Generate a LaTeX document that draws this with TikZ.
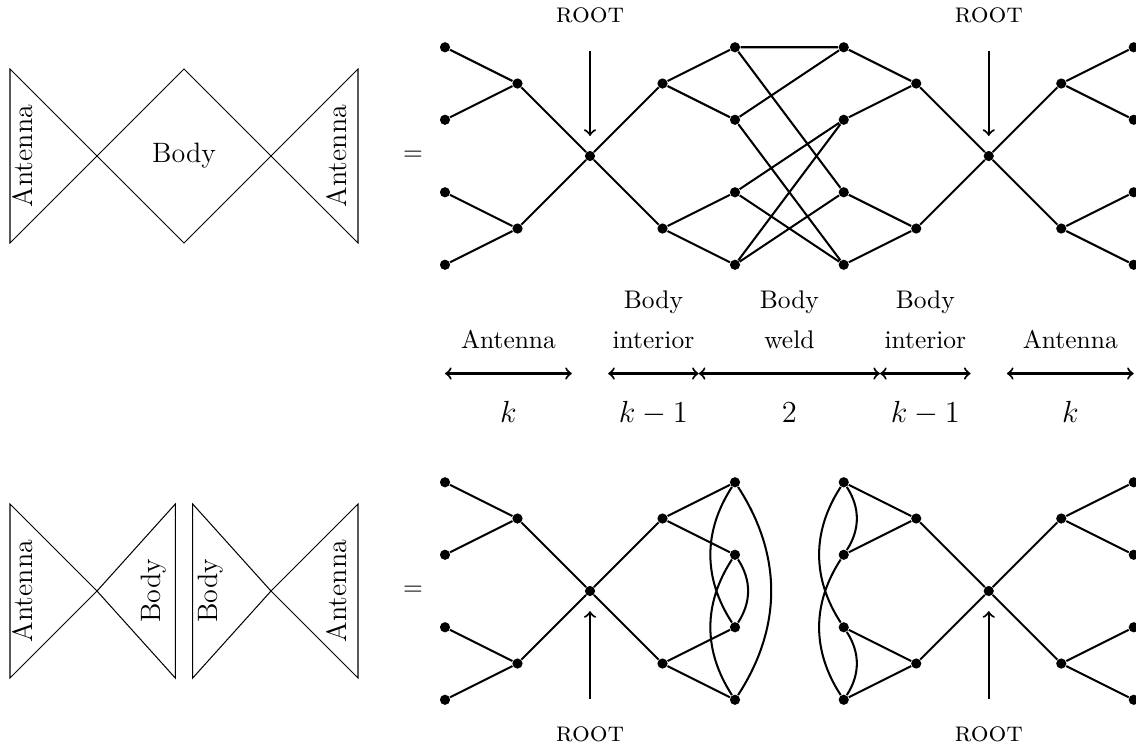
\documentclass[tikz,border=0pt]{standalone}
\usepackage{amsmath}
\usepackage{tikz}
\tikzset{
  vertex/.style={circle, fill, inner sep=0pt, minimum size=4pt},
  graphedge/.style={thick},
  rootarrow/.style={->, thick, shorten <=0.38cm, shorten >=0.2cm},
  rootlabel/.style={inner sep=0pt, font=\fontsize{11}{13}\selectfont},
  span/.style={<->, thick},
  spanlabel/.style={align=center, anchor=south},
  countlabel/.style={anchor=base, font=\large},
  bowtie/.style={draw, thin},
  bowtext/.style={font=\fontsize{11}{13}\selectfont},
}

\begin{document}
\begin{tikzpicture}
  \useasboundingbox (-8.138,-8.207) rectangle (7.531,2.152);

  % the two glued trees, once whole and once cut at the weld
  \foreach \r/\y in {t/0, b/-6} {
    \node[vertex] (\r-l1) at (-2,\y+1.5) {};
    \node[vertex] (\r-l2) at (-2,\y+0.5) {};
    \node[vertex] (\r-l3) at (-2,\y-0.5) {};
    \node[vertex] (\r-l4) at (-2,\y-1.5) {};
    \node[vertex] (\r-la) at (-1,\y+1) {};
    \node[vertex] (\r-lb) at (-1,\y-1) {};
    \node[vertex] (\r-root) at (0,\y) {};
    \node[vertex] (\r-ia) at (1,\y+1) {};
    \node[vertex] (\r-ib) at (1,\y-1) {};
    \node[vertex] (\r-w1) at (2,\y+1.5) {};
    \node[vertex] (\r-w2) at (2,\y+0.5) {};
    \node[vertex] (\r-w3) at (2,\y-0.5) {};
    \node[vertex] (\r-w4) at (2,\y-1.5) {};
    \node[vertex] (\r-v1) at (3.5,\y+1.5) {};
    \node[vertex] (\r-v2) at (3.5,\y+0.5) {};
    \node[vertex] (\r-v3) at (3.5,\y-0.5) {};
    \node[vertex] (\r-v4) at (3.5,\y-1.5) {};
    \node[vertex] (\r-ja) at (4.5,\y+1) {};
    \node[vertex] (\r-jb) at (4.5,\y-1) {};
    \node[vertex] (\r-root2) at (5.5,\y) {};
    \node[vertex] (\r-ka) at (6.5,\y+1) {};
    \node[vertex] (\r-kb) at (6.5,\y-1) {};
    \node[vertex] (\r-r1) at (7.5,\y+1.5) {};
    \node[vertex] (\r-r2) at (7.5,\y+0.5) {};
    \node[vertex] (\r-r3) at (7.5,\y-0.5) {};
    \node[vertex] (\r-r4) at (7.5,\y-1.5) {};

    \draw[graphedge] (\r-l1) -- (\r-la) -- (\r-l2)
                     (\r-l3) -- (\r-lb) -- (\r-l4)
                     (\r-la) -- (\r-root) -- (\r-lb)
                     (\r-ia) -- (\r-root) -- (\r-ib)
                     (\r-w1) -- (\r-ia) -- (\r-w2)
                     (\r-w3) -- (\r-ib) -- (\r-w4)
                     (\r-v1) -- (\r-ja) -- (\r-v2)
                     (\r-v3) -- (\r-jb) -- (\r-v4)
                     (\r-ja) -- (\r-root2) -- (\r-jb)
                     (\r-ka) -- (\r-root2) -- (\r-kb)
                     (\r-r1) -- (\r-ka) -- (\r-r2)
                     (\r-r3) -- (\r-kb) -- (\r-r4);
  }

  % weld
  \draw[graphedge] (t-w1) -- (t-v1)  (t-w1) -- (t-v3)
                   (t-w2) -- (t-v1)  (t-w2) -- (t-v4)
                   (t-w3) -- (t-v2)  (t-w3) -- (t-v4)
                   (t-w4) -- (t-v2)  (t-w4) -- (t-v3);
  \draw[graphedge] (b-w1) to[bend left=33] (b-w4)
                   (b-w1) to[bend right=33] (b-w3)
                   (b-w2) to[bend left=33] (b-w3)
                   (b-w2) to[bend right=33] (b-w4)
                   (b-v1) to[bend left=33] (b-v2)
                   (b-v3) to[bend left=33] (b-v4)
                   (b-v1) to[bend right=33] (b-v3)
                   (b-v2) to[bend right=33] (b-v4);

  % roots
  \node[rootlabel] (t-lab1) at (0,1.94) {\textsc{root}};
  \node[rootlabel] (t-lab2) at (5.5,1.94) {\textsc{root}};
  \node[rootlabel] (b-lab1) at (0,-7.98) {\textsc{root}};
  \node[rootlabel] (b-lab2) at (5.5,-7.98) {\textsc{root}};
  \draw[rootarrow] (t-lab1) -- (t-root);
  \draw[rootarrow] (t-lab2) -- (t-root2);
  \draw[rootarrow] (b-lab1) -- (b-root);
  \draw[rootarrow] (b-lab2) -- (b-root2);

  % lengths
  \coordinate (s0) at (-2,-3);
  \coordinate (s1) at (-0.25,-3);
  \coordinate (s2) at (0.25,-3);
  \coordinate (s3) at (1.5,-3);
  \coordinate (s4) at (4,-3);
  \coordinate (s5) at (5.25,-3);
  \coordinate (s6) at (5.75,-3);
  \coordinate (s7) at (7.5,-3);
  \draw[span] (s0) -- (s1);
  \draw[span] (s2) -- (s3);
  \draw[span] (s3) -- (s4);
  \draw[span] (s4) -- (s5);
  \draw[span] (s6) -- (s7);
  \node[spanlabel] (n-ant1) at (-1.125,-2.78) {Antenna};
  \node[spanlabel] (n-int1) at (0.875,-2.78) {Body\\[3.7pt]interior};
  \node[spanlabel] (n-weld) at (2.75,-2.78) {Body\\[3.7pt]weld};
  \node[spanlabel] (n-int2) at (4.625,-2.78) {Body\\[3.7pt]interior};
  \node[spanlabel] (n-ant2) at (6.625,-2.78) {Antenna};
  \node[countlabel] (c-ant1) at (-1.125,-3.67) {$k$};
  \node[countlabel] (c-int1) at (0.875,-3.67) {$k-1$};
  \node[countlabel] (c-weld) at (2.75,-3.67) {$2$};
  \node[countlabel] (c-int2) at (4.625,-3.67) {$k-1$};
  \node[countlabel] (c-ant2) at (6.625,-3.67) {$k$};

  % bow ties
  \draw[bowtie] (-8,1.2) -- (-8,-1.2) -- (-5.6,1.2) -- (-3.2,-1.2)
                -- (-3.2,1.2) -- (-5.6,-1.2) -- cycle;
  \node[bowtext, rotate=90] (bt-ant1) at (-7.82,0) {Antenna};
  \node[bowtext] (bt-body) at (-5.6,0) {Body};
  \node[bowtext, rotate=90] (bt-ant2) at (-3.5,0) {Antenna};
  \node (eq1) at (-2.44,0) {$=$};

  \draw[bowtie] (-8,-4.8) -- (-6.8,-6) -- (-5.72,-4.8) -- (-5.72,-7.2)
                -- (-6.8,-6) -- (-8,-7.2) -- cycle;
  \draw[bowtie] (-5.48,-4.8) -- (-4.4,-6) -- (-3.2,-4.8) -- (-3.2,-7.2)
                -- (-4.4,-6) -- (-5.48,-7.2) -- cycle;
  \node[bowtext, rotate=90] (bb-ant1) at (-7.82,-6) {Antenna};
  \node[bowtext, rotate=90] (bb-body1) at (-6.02,-6) {Body};
  \node[bowtext, rotate=90] (bb-body2) at (-5.23,-6) {Body};
  \node[bowtext, rotate=90] (bb-ant2) at (-3.5,-6) {Antenna};
  \node (eq2) at (-2.44,-6) {$=$};
\end{tikzpicture}
\end{document}
